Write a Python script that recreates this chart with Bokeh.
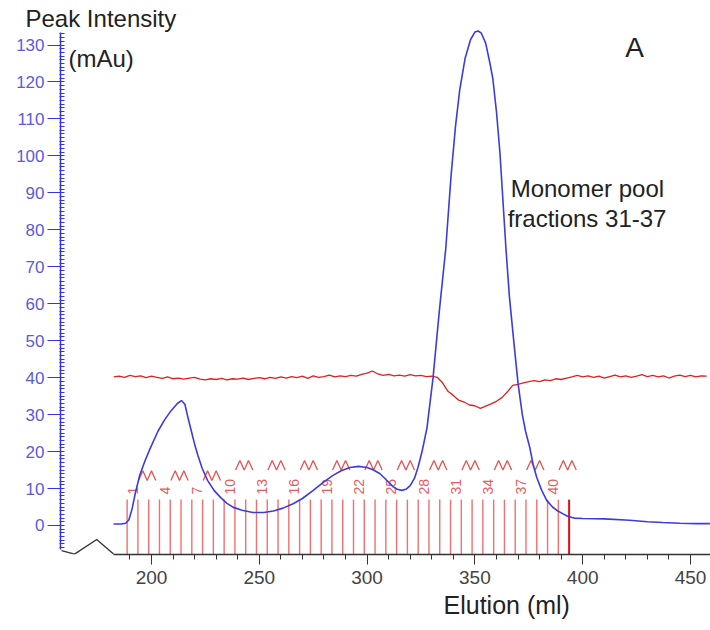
from bokeh.plotting import figure
from bokeh.models import FixedTicker, Label, Title
from bokeh.core.properties import value
from bokeh.embed import file_html
from bokeh.resources import INLINE

# ---------------- data ----------------
uv_ml = [182.4, 186, 188, 189.5, 191, 192.6, 194.5, 197, 199.5, 203, 206, 209, 212, 213.9,
         215.5, 217, 218.5, 220, 221.5, 223.5, 226, 229, 232, 235, 238, 242, 247, 252,
         256.5, 261, 265.7, 270, 275, 280, 284, 288, 292, 296, 300, 303, 306, 309, 312,
         314, 316, 318, 320, 322, 323.6, 325.5, 327.8, 330.6, 333.5, 336.5, 339, 341, 343,
         345.5, 348, 350, 351.5, 353, 355, 357, 358.3, 360, 361.6, 363, 364.4, 366, 368,
         370, 372, 373.5, 375.5, 377, 378.7, 381, 383.3, 386, 388.5, 390.7, 393, 396, 400,
         410, 421.8, 430, 437, 445, 452.8, 459]
uv_mau = [0.4, 0.4, 0.6, 1.5, 4.5, 9, 13.5, 17.5, 21, 25.5, 28.5, 31, 33, 33.8,
          32.8, 29, 25.5, 22, 19, 15.5, 12.2, 9.5, 7.6, 6.0, 4.9, 4.1, 3.5, 3.5,
          3.9, 4.7, 5.9, 7.3, 9.5, 11.8, 13.5, 14.8, 15.7, 16.0, 15.7, 15.0, 14.0, 12.3, 10.5,
          9.8, 9.5, 9.8, 10.8, 12.8, 15.7, 20, 26.5, 40, 58, 75, 95, 108, 118,
          126.5, 131.5, 133.5, 133.8, 133.2, 130.5, 125, 121, 112, 101, 88, 75, 62, 50,
          38.5, 30, 25.5, 21, 16.5, 13, 9.5, 6.8, 5.0, 3.9, 3.2, 2.5, 2.0, 1.9,
          1.8, 1.4, 1.0, 0.8, 0.6, 0.5, 0.5]

cond_ml = [182.5, 185, 187.5, 190, 192.5, 195, 197.5, 200, 202.5, 205, 207.5, 210, 212.5, 215,
           217.5, 220, 222.5, 225, 227.5, 230, 232.5, 235, 237.5, 240, 242.5, 245, 247.5, 250,
           252.5, 255, 257.5, 260, 262.5, 265, 267.5, 270, 272.5, 275, 277.5, 280, 282.5, 285,
           287.5, 290, 292.5, 295, 297.5, 300, 302.5, 305, 307.5, 310, 312.5, 315, 317.5, 320,
           322.5, 325, 327.5, 330, 332.5, 335, 337.5, 340, 342.5, 345, 347.5, 350, 352.5, 355,
           357.5, 360, 362.5, 365, 367.5, 370, 372.5, 375, 377.5, 380, 382.5, 385, 387.5, 390,
           392.5, 395, 397.5, 400, 402.5, 405, 407.5, 410, 412.5, 415, 417.5, 420, 422.5, 425,
           427.5, 430, 432.5, 435, 437.5, 440, 442.5, 445, 447.5, 450, 452.5, 455, 457.5]
cond_val = [40.2, 40.4, 40.1, 40.6, 40.3, 40.5, 40.0, 40.4, 40.1, 39.8, 40.2, 39.7, 39.9, 39.6,
            39.9, 40.1, 39.6, 39.4, 39.7, 39.5, 39.8, 39.4, 39.7, 39.6, 39.9, 39.5, 39.8, 40.0,
            39.7, 40.1, 39.8, 40.2, 39.9, 40.3, 40.0, 40.4, 39.8, 40.5, 40.1, 40.3, 40.7, 40.2,
            40.5, 40.3, 40.6, 40.4, 40.9, 41.2, 41.8, 41.0, 40.6, 40.9, 40.5, 40.7, 40.4, 40.8,
            40.5, 40.6, 40.3, 40.4, 40.1, 38.6, 36.3, 35.2, 33.9, 33.4, 32.6, 32.4, 31.7, 32.3,
            32.9, 33.6, 34.6, 36.1, 37.9, 38.2, 38.6, 38.9, 39.2, 38.9, 39.4, 39.2, 39.7, 39.5,
            39.9, 40.2, 40.6, 40.2, 40.5, 40.1, 40.4, 39.9, 40.3, 40.7, 40.2, 40.5, 40.1, 40.4,
            40.8, 40.3, 40.6, 40.2, 40.5, 39.9, 40.4, 40.7, 40.3, 40.6, 40.2, 40.5, 40.4]

# fraction collector cut points (ml)
frac_cuts = [188.7, 193.7, 198.7, 203.7, 208.7, 213.7, 218.7, 223.7, 228.7, 233.7, 238.7,
             243.7, 248.7, 253.7, 258.7, 263.7, 268.7, 273.7, 278.7, 283.7, 288.7, 293.7,
             298.7, 303.7, 308.7, 313.7, 318.7, 323.7, 328.7, 333.7, 338.7, 343.7, 348.7,
             353.7, 358.7, 363.7, 368.7, 373.7, 378.7, 383.7, 388.7, 393.7]
frac_labels = ["1", "4", "7", "10", "13", "16", "19", "22", "25", "28", "31", "34", "37", "40"]
frac_label_idx = [1, 4, 7, 10, 13, 16, 19, 22, 25, 28, 31, 34, 37, 40]

# tube marks
mark_ml = [198, 213, 228, 243, 258, 273, 288, 303, 318, 333, 348, 363, 378, 393]
mark_base = [12.2, 12.2, 12.2, 15, 15, 15, 15, 15, 15, 15, 15, 15, 15, 15]

y_ticks = [0, 10, 20, 30, 40, 50, 60, 70, 80, 90, 100, 110, 120, 130]
x_ticks = [200, 250, 300, 350, 400, 450]

# axis break decoration (ml, mAu)
break_x = [158.3, 164.3, 174.6, 182.4]
break_y = [-6.8, -7.75, -3.8, -7.7]

FONT = "Liberation Sans"
Y_MIN, Y_MAX = -7.85, 134.2

p = figure(width=710, height=630, x_range=(157.8, 459.28), y_range=(Y_MIN, Y_MAX),
           output_backend="svg", toolbar_location=None,
           min_border_left=60, min_border_right=0, min_border_top=29, min_border_bottom=76)
p.outline_line_color = None
p.xgrid.visible = False
p.ygrid.visible = False
p.background_fill_color = "white"

p.title = Title(text="Peak Intensity", align="left", offset=-35, standoff=-5,
                text_font=FONT, text_font_size="24px", text_font_style="normal",
                text_color="#222222")

# y axis
ya = p.yaxis[0]
ya.bounds = (-6.6, 133.4)
ya.ticker = FixedTicker(ticks=y_ticks, minor_ticks=[v for v in range(-6, 134)])
ya.axis_line_color = "#3535e0"
ya.axis_line_width = 1.5
ya.major_tick_line_color = "#3535e0"
ya.minor_tick_line_color = "#3535e0"
ya.major_tick_out = 13
ya.major_tick_in = 0
ya.minor_tick_out = 1
ya.minor_tick_in = 4
ya.major_label_standoff = 3
ya.major_label_text_color = "#5b5bd6"
ya.major_label_text_font = FONT
ya.major_label_text_font_size = "17px"

# x axis
xa = p.xaxis[0]
xa.bounds = (182.4, 459.28)
xa.ticker = FixedTicker(ticks=x_ticks, minor_ticks=[v for v in range(190, 460, 10)])
xa.axis_line_color = "#333333"
xa.axis_line_width = 1.3
xa.major_tick_line_color = "#333333"
xa.minor_tick_line_color = "#333333"
xa.major_tick_out = 10
xa.major_tick_in = 0
xa.minor_tick_out = 5
xa.minor_tick_in = 0
xa.major_label_standoff = 6
xa.major_label_text_color = "#444444"
xa.major_label_text_font = FONT
xa.major_label_text_font_size = "19px"

p.add_layout(Title(text="Elution (ml)", align="left", offset=383, standoff=5,
                   text_font=FONT, text_font_size="25px", text_font_style="normal",
                   text_color="#222222"), "below")

# axis break
p.line(break_x, break_y, line_color="#333333", line_width=1.3)

# fraction lines
p.segment(x0=frac_cuts[:-1], y0=[Y_MIN] * (len(frac_cuts) - 1),
          x1=frac_cuts[:-1], y1=[7.0] * (len(frac_cuts) - 1),
          line_color="#f07070", line_width=1.4)
p.segment(x0=[frac_cuts[-1]], y0=[Y_MIN], x1=[frac_cuts[-1]], y1=[7.0],
          line_color="#e01010", line_width=2)

# fraction number labels (centred in their fraction)
lab_x = [(frac_cuts[i - 1] + frac_cuts[i]) / 2 for i in frac_label_idx]
p.text(x=lab_x, y=[8.4] * len(lab_x), text=frac_labels, angle=1.5708,
       text_align="left", text_baseline="middle", text_color="#e06060",
       text_font=value(FONT), text_font_size="14px")

# tube marks
shape_dx = [-4.0, -2.0, 0, 2.0, 4.0]
shape_dy = [0, 2.6, 0, 2.6, 0]
mxs = [[c + d for d in shape_dx] for c in mark_ml]
mys = [[b + d for d in shape_dy] for b in mark_base]
p.multi_line(mxs, mys, line_color="#e85050", line_width=1.3)

# traces
p.line(cond_ml, cond_val, line_color="#e02020", line_width=1.3)
p.line(uv_ml, uv_mau, line_color="#3c3cdc", line_width=1.6)

# annotations
def add_label(x, y, text, size, color="#222222"):
    p.add_layout(Label(x=x, y=y, text=text, text_font=FONT, text_font_size=size,
                       text_color=color, text_baseline="alphabetic", text_align="left"))

add_label(161.5, 126.4, "(mAu)", "24px")
add_label(366.6, 91.2, "Monomer pool", "24px")
add_label(365.2, 83.1, "fractions 31-37", "24px")
add_label(419.7, 129.3, "A", "28px")

open("out.html", "w").write(file_html(p, INLINE))
